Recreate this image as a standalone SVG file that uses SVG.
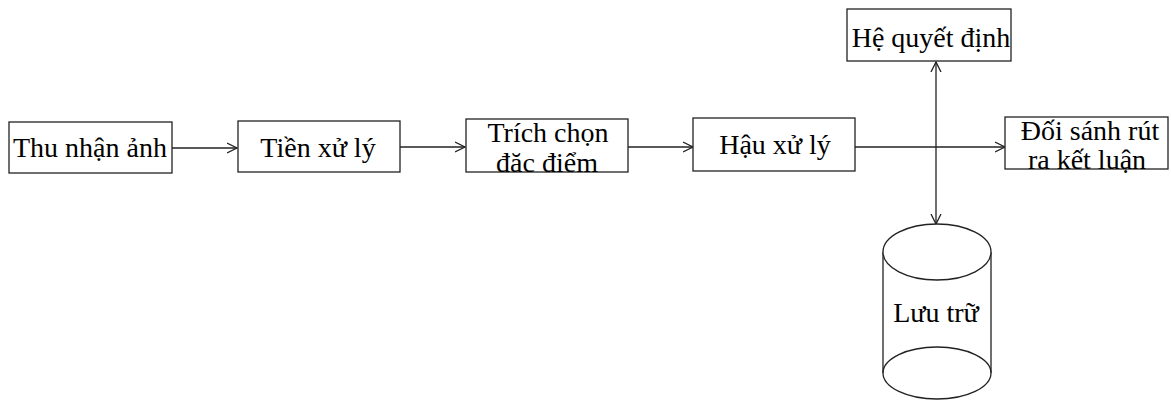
<svg xmlns="http://www.w3.org/2000/svg" width="1171" height="400" viewBox="0 0 1171 400">
<defs>
<style>
.box{fill:#fff;stroke:#222;stroke-width:1.3}
.t{font-family:"Liberation Serif","Times New Roman",serif;font-size:28px;fill:#000;text-anchor:middle}
.c{fill:none;stroke:#222;stroke-width:1.3}
</style>
<marker id="ah" markerWidth="12" markerHeight="12" refX="10" refY="5" orient="auto-start-reverse" markerUnits="userSpaceOnUse" viewBox="0 0 12 10">
<path d="M0,0 L10,5 L0,10" fill="none" stroke="#222" stroke-width="1.3"/>
</marker>
</defs>
<rect width="1171" height="400" fill="#fff"/>
<g id="connectors">
<line class="c" x1="172" y1="148" x2="237" y2="148" marker-end="url(#ah)"/>
<line class="c" x1="400" y1="147" x2="465" y2="147" marker-end="url(#ah)"/>
<line class="c" x1="628" y1="147" x2="693" y2="147" marker-end="url(#ah)"/>
<line class="c" x1="855" y1="147" x2="1005" y2="147" marker-end="url(#ah)"/>
<line class="c" x1="936" y1="62" x2="936" y2="224" marker-start="url(#ah)" marker-end="url(#ah)"/>
</g>
<g id="thu-nhan-anh">
<rect class="box" x="9" y="122" width="163" height="51"/>
<text class="t" x="90" y="157">Thu nhận ảnh</text>
</g>
<g id="tien-xu-ly">
<rect class="box" x="238" y="121" width="162" height="51"/>
<text class="t" x="318" y="157">Tiền xử lý</text>
</g>
<g id="trich-chon">
<rect class="box" x="466" y="119" width="162" height="53"/>
<text class="t" x="548" y="142">Trích chọn</text>
<text class="t" x="547" y="172">đăc điểm</text>
</g>
<g id="hau-xu-ly">
<rect class="box" x="693" y="118" width="162" height="53"/>
<text class="t" x="775" y="154">Hậu xử lý</text>
</g>
<g id="he-quyet-dinh">
<rect class="box" x="847" y="9" width="164" height="52"/>
<text class="t" x="931" y="47">Hệ quyết định</text>
</g>
<g id="doi-sanh">
<rect class="box" x="1005" y="117" width="163" height="52"/>
<text class="t" x="1090" y="140">Đối sánh rút</text>
<text class="t" x="1087" y="169">ra kết luận</text>
</g>
<g id="luu-tru">
<path class="box" d="M883,252 L883,373 A54,26 0 0 0 991,373 L991,252"/>
<ellipse class="box" cx="937" cy="252" rx="54" ry="28"/>
<path class="c" d="M883,373 A54,26 0 0 1 991,373"/>
<text class="t" x="936" y="322">Lưu trữ</text>
</g>
</svg>
